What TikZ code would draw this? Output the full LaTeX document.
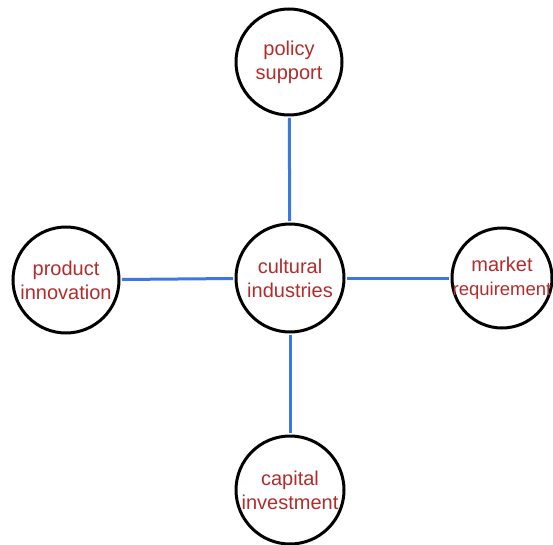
\documentclass[tikz,border=0pt]{standalone}
\usepackage{fontspec}
\setmainfont{Liberation Sans}
\usepackage{tikz}
\usetikzlibrary{positioning}
\definecolor{linkblue}{RGB}{58,122,222}
\definecolor{labelred}{RGB}{178,44,44}
\tikzstyle{factor} = [circle, draw, line width=3pt, inner sep=0pt,
minimum size=106pt, text=labelred, align=center, font=\fontsize{20}{24}\selectfont]
\tikzstyle{link} = [draw, linkblue, line width=3pt, shorten >=1.5pt, shorten <=1.5pt]

\begin{document}
\begin{tikzpicture}[x=1pt,y=1pt,node distance=216pt]
\useasboundingbox (0,0) rectangle (553,544);
% Place nodes
	\node [factor, minimum size=108pt] 		(core) at (290,266) {cultural\\industries};
	\node [factor, above of=core, xshift=-1pt,yshift=0pt] (policy) {policy\\support};
	\node [factor, left of=core, xshift=-8pt,yshift=-2pt] (product) {product\\innovation};
	\node [factor, right of=core, xshift=-4pt,yshift=0pt, minimum size=100pt] (market) {market\\\makebox[0pt]{\fontsize{18.5}{24}\selectfont requirement}};
	\node [factor, below of=core, xshift=0pt,yshift=4pt, minimum size=108pt] (capital) {capital\\investment};

% Draw edges
	\path [link] (core) -- (policy);
	\path [link] (core) -- (product);
	\path [link] (core) -- (market);
	\path [link] (core) -- (capital);

\end{tikzpicture}
\end{document}
